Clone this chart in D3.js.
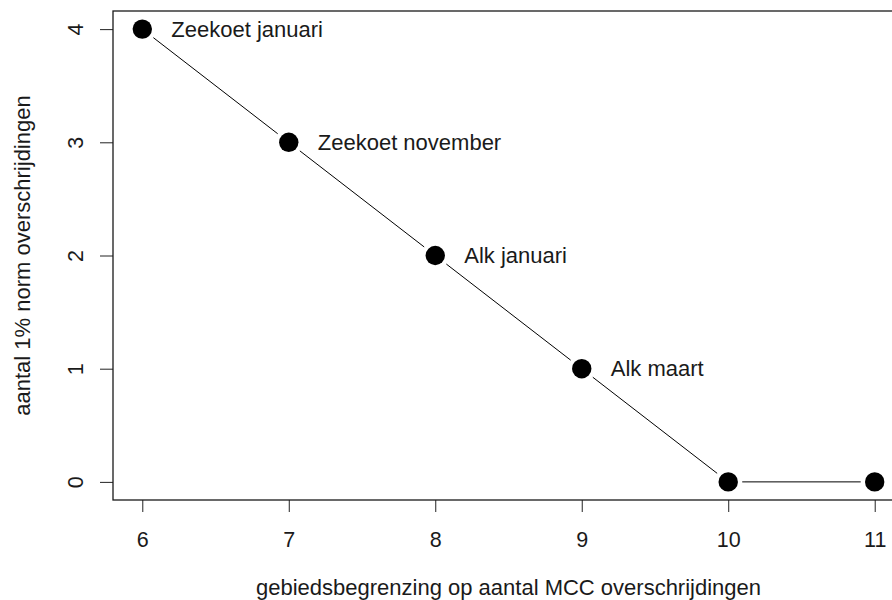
<!DOCTYPE html>
<html>
<head>
<meta charset="utf-8">
<script src="https://cdn.jsdelivr.net/npm/d3@7"></script>
<style>
  html, body { margin: 0; padding: 0; background: #fff; }
  svg { display: block; }
  text { font-family: "Liberation Sans", Arial, sans-serif; fill: #1a1a1a; }
</style>
</head>
<body>
<svg id="chart" width="892" height="600"></svg>
<script>
// Number of MCC exceedances used as area boundary vs. number of 1% norm exceedances
const mccThreshold = [6, 7, 8, 9, 10, 11];
const normExceedances = [4, 3, 2, 1, 0, 0];
const pointLabels = ["Zeekoet januari", "Zeekoet november", "Alk januari", "Alk maart", "", ""];
const xTicks = [6, 7, 8, 9, 10, 11];
const yTicks = [0, 1, 2, 3, 4];
const xTitle = "gebiedsbegrenzing op aantal MCC overschrijdingen";
const yTitle = "aantal 1% norm overschrijdingen";

const fontSize = 22;
const tickFontSize = 21.5;
const svg = d3.select("#chart");
const plot = { left: 113, right: 904, top: 11, bottom: 500 };

// Axis domains padded by 4% on each side
const xPad = (d3.max(mccThreshold) - d3.min(mccThreshold)) * 0.04;
const yPad = (d3.max(normExceedances) - d3.min(normExceedances)) * 0.04;
const x = d3.scaleLinear()
  .domain([d3.min(mccThreshold) - xPad, d3.max(mccThreshold) + xPad])
  .range([plot.left, plot.right]);
const y = d3.scaleLinear()
  .domain([d3.min(normExceedances) - yPad, d3.max(normExceedances) + yPad])
  .range([plot.bottom, plot.top]);

const pts = mccThreshold.map((v, i) => ({ x: v, y: normExceedances[i], label: pointLabels[i] }));

// Connecting segments, stopped short of each point
const gap = 14;
const segs = svg.append("g");
for (let i = 0; i < pts.length - 1; i++) {
  const x0 = x(pts[i].x), y0 = y(pts[i].y), x1 = x(pts[i + 1].x), y1 = y(pts[i + 1].y);
  const len = Math.hypot(x1 - x0, y1 - y0);
  const ux = (x1 - x0) / len, uy = (y1 - y0) / len;
  segs.append("line")
    .attr("x1", x0 + ux * gap).attr("y1", y0 + uy * gap)
    .attr("x2", x1 - ux * gap).attr("y2", y1 - uy * gap)
    .attr("stroke", "#000").attr("stroke-width", 1);
}

// Points
svg.append("g").selectAll("circle").data(pts).join("circle")
  .attr("cx", d => x(d.x)).attr("cy", d => y(d.y)).attr("r", 9.7)
  .attr("fill", "#000");

// Point labels to the right
svg.append("g").selectAll("text").data(pts.filter(d => d.label)).join("text")
  .attr("x", d => x(d.x) + 29).attr("y", d => y(d.y) + 7.8)
  .attr("font-size", fontSize)
  .text(d => d.label);

// Bottom axis
const xAxis = d3.axisBottom(x).tickValues(xTicks).tickSize(12).tickPadding(0).tickFormat(d3.format("d"));
const gx = svg.append("g").attr("transform", `translate(0,${plot.bottom})`).call(xAxis);
gx.select(".domain").remove();
gx.selectAll(".tick line").attr("stroke", "#222");
gx.selectAll(".tick text").attr("font-size", tickFontSize).attr("font-family", "Liberation Sans, Arial, sans-serif")
  .attr("fill", "#1a1a1a").attr("dy", null).attr("y", 47);

// Left axis with rotated labels
const yAxis = d3.axisLeft(y).tickValues(yTicks).tickSize(13).tickPadding(0).tickFormat(d3.format("d"));
const gy = svg.append("g").attr("transform", `translate(${plot.left},0)`).call(yAxis);
gy.select(".domain").remove();
gy.selectAll(".tick line").attr("stroke", "#222");
gy.selectAll(".tick text")
  .attr("font-size", tickFontSize).attr("font-family", "Liberation Sans, Arial, sans-serif")
  .attr("fill", "#1a1a1a")
  .attr("x", null).attr("dy", null)
  .attr("text-anchor", "middle")
  .attr("transform", "translate(-30,0) rotate(-90)");

// Plot frame
svg.append("rect")
  .attr("x", plot.left).attr("y", plot.top)
  .attr("width", plot.right - plot.left).attr("height", plot.bottom - plot.top)
  .attr("fill", "none").attr("stroke", "#1a1a1a").attr("stroke-width", 1.3);

// Axis titles
svg.append("text")
  .attr("x", (plot.left + plot.right) / 2).attr("y", 595)
  .attr("text-anchor", "middle").attr("font-size", fontSize)
  .text(xTitle);
svg.append("text")
  .attr("transform", `translate(30,${(plot.top + plot.bottom) / 2}) rotate(-90)`)
  .attr("text-anchor", "middle").attr("font-size", fontSize)
  .text(yTitle);
</script>
</body>
</html>
